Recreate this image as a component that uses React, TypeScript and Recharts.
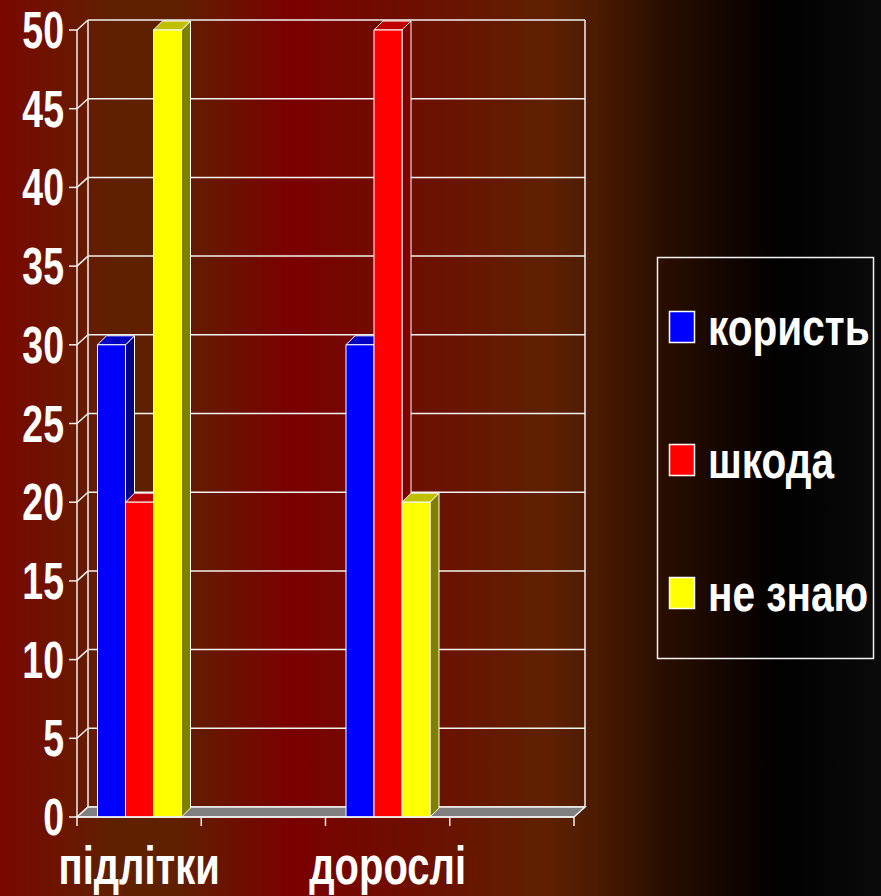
import { BarChart, Bar, XAxis, YAxis, CartesianGrid, Legend, ReferenceArea } from "recharts";

// two real groups; the blank slots are part of the original category axis
const categories = ["підлітки", "", "дорослі", ""];
const korist = [30, null, 30, null];
const shkoda = [20, null, 50, null];
const neZnayu = [50, null, 20, null];
const seriesNames = ["користь", "шкода", "не знаю"];
const yTicks = [0, 5, 10, 15, 20, 25, 30, 35, 40, 45, 50];

const data = categories.map((name, i) => ({
  name,
  korist: korist[i],
  shkoda: shkoda[i],
  neZnayu: neZnayu[i],
}));

const W = 881;
const H = 896;
const MARGIN = { top: 30, right: 307, bottom: 0, left: 0 };
const Y_AXIS_W = 77;
const X_AXIS_H = 79;
const PLOT_W = W - MARGIN.left - MARGIN.right - Y_AXIS_W;

const FONT = "'Liberation Sans', Arial, sans-serif";
const LINE = "#f2f2f2";

// 3D depth offsets
const WALL_DX = 11;
const WALL_DY = -10;
const BAR_DX = 9;
const BAR_DY = -9;

const makeBarShape = (front: string, top: string, side: string) => (props: any) => {
  const { x, y, width, height } = props;
  if (!height || height <= 0) return <g />;
  const r = x + width;
  const b = y + height;
  return (
    <g stroke="#ffffff" strokeWidth={1} strokeLinejoin="round">
      <polygon points={`${r},${y} ${r + BAR_DX},${y + BAR_DY} ${r + BAR_DX},${b + BAR_DY} ${r},${b}`} fill={side} />
      <polygon points={`${x},${y} ${x + BAR_DX},${y + BAR_DY} ${r + BAR_DX},${y + BAR_DY} ${r},${y}`} fill={top} />
      <rect x={x} y={y} width={width} height={height} fill={front} />
    </g>
  );
};

const gridLine = (props: any) => {
  const { x1, y1, x2 } = props;
  return (
    <g key={props.key} stroke={LINE} strokeWidth={1.5}>
      <line x1={x1} y1={y1} x2={x1 + WALL_DX} y2={y1 + WALL_DY} />
      <line x1={x1 + WALL_DX} y1={y1 + WALL_DY} x2={x2 + WALL_DX} y2={y1 + WALL_DY} />
    </g>
  );
};

const wallShape = (props: any) => {
  const { x, y, width, height } = props;
  const b = y + height;
  const r = x + width;
  return (
    <g stroke={LINE} strokeWidth={1.5}>
      <line x1={x + WALL_DX} y1={y + WALL_DY} x2={x + WALL_DX} y2={b + WALL_DY} />
      <line x1={r + WALL_DX} y1={y + WALL_DY} x2={r + WALL_DX} y2={b + WALL_DY} />
      <polygon
        points={`${x},${b} ${r},${b} ${r + WALL_DX},${b + WALL_DY} ${x + WALL_DX},${b + WALL_DY}`}
        fill="#808080"
      />
    </g>
  );
};

const YTick = (props: any) => {
  const { x, y, payload } = props;
  return (
    <g transform={`translate(${x},${y})`}>
      <text
        transform="scale(0.72,1)"
        textAnchor="end"
        dy={18}
        fill="#ffffff"
        fontSize={52}
        fontWeight="bold"
        fontFamily={FONT}
      >
        {payload.value}
      </text>
    </g>
  );
};

const X_TICK = 9;

const XTick = (props: any) => {
  const { x, y, payload, index } = props;
  const half = payload.offset ?? PLOT_W / (2 * categories.length);
  const top = y - X_TICK;
  return (
    <g>
      <line x1={x - half} y1={top} x2={x - half} y2={y} stroke={LINE} strokeWidth={1.5} />
      {index === categories.length - 1 && (
        <line x1={x + half} y1={top} x2={x + half} y2={y} stroke={LINE} strokeWidth={1.5} />
      )}
      <g transform={`translate(${x},${top + 67})`}>
        <text
          transform="scale(0.74,1)"
          textAnchor="middle"
          fill="#ffffff"
          fontSize={54}
          fontWeight="bold"
          fontFamily={FONT}
        >
          {payload.value}
        </text>
      </g>
    </g>
  );
};

const LEGEND_W = 217;
const LEGEND_H = 402;

const LegendBox = (props: any) => {
  const items = [...(props.payload || [])].sort(
    (a: any, b: any) => seriesNames.indexOf(a.value) - seriesNames.indexOf(b.value)
  );
  return (
    <svg width={LEGEND_W} height={LEGEND_H} style={{ display: "block", overflow: "visible" }}>
      <rect x={0.5} y={0.5} width={LEGEND_W - 1} height={LEGEND_H - 1} fill="none" stroke={LINE} strokeWidth={1.5} />
      {items.map((it: any, i: number) => {
        const cy = 70 + i * 133;
        return (
          <g key={it.value}>
            <rect x={12.5} y={cy - 15.5} width={25} height={31} fill={it.color} stroke="#ffffff" strokeWidth={1.5} />
            <g transform={`translate(51,${cy + 18})`}>
              <text transform="scale(0.78,1)" fill="#ffffff" fontSize={52} fontWeight="bold" fontFamily={FONT}>
                {it.value}
              </text>
            </g>
          </g>
        );
      })}
    </svg>
  );
};

export default function App() {
  return (
    <div
      style={{
        position: "absolute",
        left: 0,
        top: 0,
        width: W,
        height: H,
        overflow: "hidden",
        fontFamily: FONT,
        background:
          "linear-gradient(to right, #7a0800 0%, #5f2000 13%, #5f2000 20%, #7a0000 33%, #6a1200 50%, #5f2000 62%, #4a1a00 68%, #2a0e00 75%, #150600 82%, #000000 88.5%, #0a0a0a 100%)",
      }}
    >
      <BarChart width={W} height={H} data={data} margin={MARGIN} barCategoryGap="16.5%" barGap={0}>
        <CartesianGrid horizontal={gridLine} vertical={false} />
        <ReferenceArea y1={0} y2={50} shape={wallShape} ifOverflow="visible" />
        <XAxis
          dataKey="name"
          height={X_AXIS_H}
          axisLine={{ stroke: LINE, strokeWidth: 1.5 }}
          tickLine={false}
          tickSize={X_TICK}
          tickMargin={0}
          tick={<XTick />}
          interval={0}
        />
        <YAxis
          type="number"
          domain={[0, 50]}
          ticks={yTicks}
          width={Y_AXIS_W}
          axisLine={{ stroke: LINE, strokeWidth: 1.5 }}
          tickLine={{ stroke: LINE, strokeWidth: 1.5 }}
          tickSize={8}
          tickMargin={5}
          tick={<YTick />}
          interval={0}
        />
        <Legend
          layout="vertical"
          align="center"
          verticalAlign="middle"
          itemSorter={null}
          wrapperStyle={{ left: 657, top: 257, width: LEGEND_W, height: LEGEND_H }}
          content={<LegendBox />}
        />
        <Bar dataKey="korist" name={seriesNames[0]} fill="#0000ff" shape={makeBarShape("#0000ff", "#0000c0", "#000080")} isAnimationActive={false} />
        <Bar dataKey="shkoda" name={seriesNames[1]} fill="#ff0000" shape={makeBarShape("#ff0000", "#c00000", "#800000")} isAnimationActive={false} />
        <Bar dataKey="neZnayu" name={seriesNames[2]} fill="#ffff00" shape={makeBarShape("#ffff00", "#c0c000", "#808000")} isAnimationActive={false} />
      </BarChart>
    </div>
  );
}
